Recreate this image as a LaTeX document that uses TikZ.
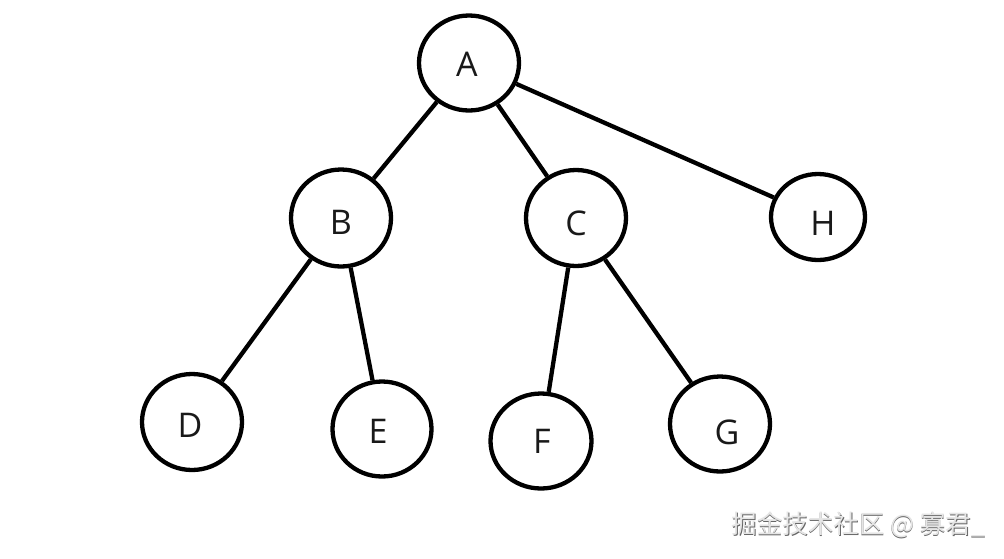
\documentclass[tikz,border=0pt]{standalone}
\usepackage{fontspec}
\setmainfont{Open Sans}
\newfontfamily\cjk{Noto Sans CJK SC}
\usetikzlibrary{shapes.geometric}
\begin{document}
\begin{tikzpicture}[x=1pt,y=-1pt,
  vertex/.style={ellipse,draw=black,line width=4.3pt,fill=white,inner sep=0pt,
    minimum width=100pt,minimum height=95pt},
  lbl/.style={font=\fontsize{34}{34}\selectfont,text=black!90},
  link/.style={line width=4.3pt,black}]
\useasboundingbox[fill=white] (0,0) rectangle (1004,558);
\node[vertex] (A) at (469,63) {};
\node[vertex,minimum height=97pt] (B) at (341,218) {};
\node[vertex,minimum height=96pt] (C) at (576,218) {};
\node[vertex,minimum width=94pt,minimum height=86pt] (H) at (818,217) {};
\node[vertex,minimum height=96pt] (D) at (192,422) {};
\node[vertex,minimum width=99pt,minimum height=95pt] (E) at (382,429) {};
\node[vertex,minimum width=101pt,minimum height=95pt] (F) at (541,441) {};
\node[vertex,minimum height=95pt] (G) at (720,424) {};
\draw[link] (A) -- (B);
\draw[link] (A) -- (C);
\draw[link] (A) -- (H);
\draw[link] (B) -- (D);
\draw[link] (B) -- (E);
\draw[link] (C) -- (F);
\draw[link] (C) -- (G);
\node[lbl] (tA) at (467,64) {A};
\node[lbl] (tB) at (341,222) {B};
\node[lbl] (tC) at (576,223) {C};
\node[lbl] (tH) at (823,223) {H};
\node[lbl] (tD) at (190,425) {D};
\node[lbl] (tE) at (378,431) {E};
\node[lbl] (tF) at (542,441) {F};
\node[lbl] (tG) at (727,432) {G};
\node[anchor=east,text=black!60,font=\cjk\fontsize{25.5}{25.5}\selectfont] (wms) at (989.6,525.6) {掘金技术社区 @ 寡君\_};
\node[anchor=east,text=black!10,font=\cjk\fontsize{25.5}{25.5}\selectfont] (wm) at (989,525) {掘金技术社区 @ 寡君\_};
\end{tikzpicture}
\end{document}
